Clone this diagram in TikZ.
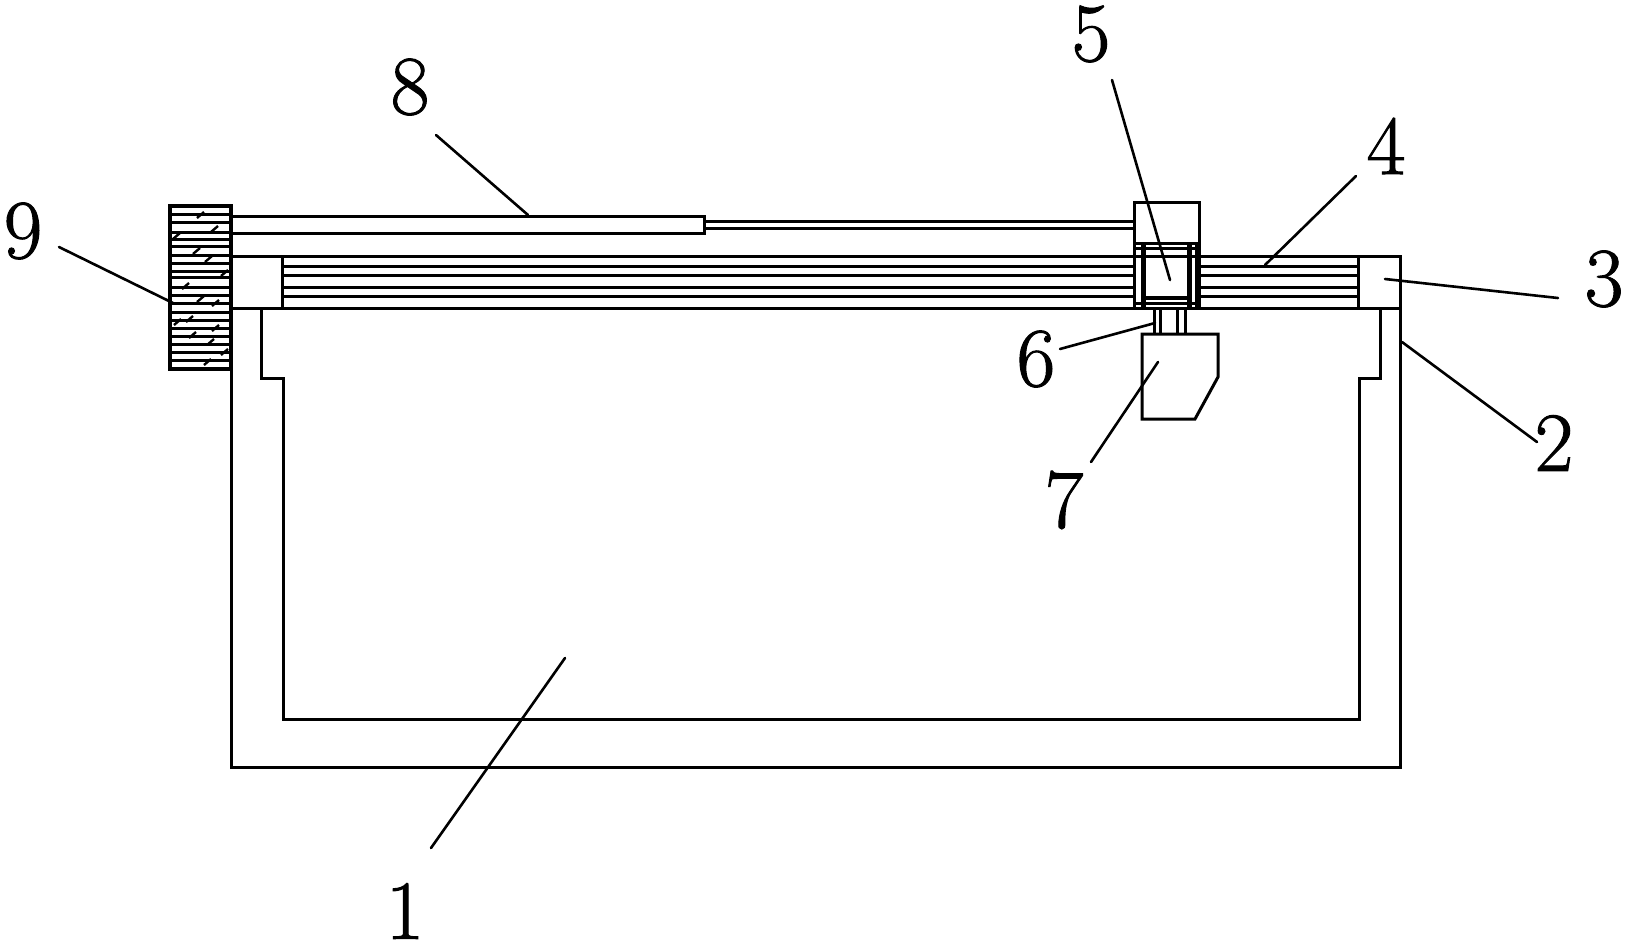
\documentclass[tikz,border=0pt]{standalone}
\usepackage{fontspec}
\newfontfamily\numfont{Latin Modern Roman}[RawFeature={embolden=1.2}]
\tikzset{
  part/.style={draw=black,line width=3pt,line join=miter},
  thick part/.style={draw=black,line width=4.5pt},
  hatchline/.style={draw=black,line width=3pt},
  slash/.style={draw=black,line width=2.4pt},
  leader/.style={draw=black,line width=2.6pt,line cap=round},
  num/.style={font=\numfont\fontsize{84}{84}\selectfont,inner sep=0pt,text=black}
}
\begin{document}
\begin{tikzpicture}[x=1pt,y=-1pt]
\useasboundingbox (0,0) rectangle (1627,943);
\fill[white] (0,0) rectangle (1627,943);
% body
\draw[part] (231,256) -- (231,767) -- (1400,767) -- (1400,256) -- cycle;
\draw[part] (231,308) -- (1400,308);
\draw[part] (261,308) -- (261,378) -- (283,378) -- (283,719) -- (1359,719) -- (1359,378) -- (1380,378) -- (1380,308);
% rail
\draw[part] (282,256) -- (282,308);
\draw[part] (1358,256) -- (1358,308);
\foreach \y in {266,275,287,296}{
  \draw[hatchline] (282,\y) -- (1134,\y);
  \draw[hatchline] (1199,\y) -- (1358,\y);
}
% knob
\draw[part,line width=3.5pt] (170,206) rectangle (231,369);
\foreach \y in {214,222,232,239,246,255,263,271,277,287,295,303,312,320,328,336,344,352,360}{
  \draw[hatchline] (170,\y) -- (231,\y);
}
\foreach \a/\b in {197/218,211/232,173/239,193/254,205/262,221/276,182/289,197/302,212/306,186/322,174/325,212/331,189/338,207/345,221/355,204/365}{
  \draw[slash] (\a,\b) -- ++(7,-6);
}
% rods
\draw[part] (231,216) -- (704,216) -- (704,233) -- (231,233);
\draw[part] (704,221) -- (1134,221);
\draw[part] (704,228) -- (1134,228);
% slider
\draw[part] (1134,202) rectangle (1199,308);
\draw[part] (1134,243) -- (1199,243);
\draw[part] (1134,248.5) -- (1199,248.5);
\draw[part] (1134,303) -- (1199,303);
\draw[thick part] (1143.5,243) -- (1143.5,308);
\draw[thick part] (1189.5,243) -- (1189.5,308);
\draw[part] (1196.5,243) -- (1196.5,308);
\draw[thick part] (1143.5,298) -- (1189.5,298);
% shaft
\foreach \x in {1154,1160,1177,1185}{\draw[part] (\x,308) -- (\x,334);}
% head
\draw[part] (1142,334) -- (1218,334) -- (1218,377) -- (1195,419) -- (1142,419) -- cycle;
% labels
\node[num] (n1) at (405,911) {1};
\node[num] (n2) at (1554,443) {2};
\node[num] (n3) at (1604,279) {3};
\node[num] (n4) at (1386,146) {4};
\node[num] (n5) at (1091,34) {5};
\node[num] (n6) at (1036,359) {6};
\node[num] (n7) at (1064,500) {7};
\node[num] (n8) at (410,87) {8};
\node[num] (n9) at (23,231) {9};
% leaders
\coordinate (a1) at (431,848); \coordinate (b1) at (565,658);
\coordinate (a2) at (1537,442); \coordinate (b2) at (1402,342);
\coordinate (a3) at (1558,298); \coordinate (b3) at (1385,279);
\coordinate (a4) at (1356,176); \coordinate (b4) at (1265,265);
\coordinate (a5) at (1112,80);  \coordinate (b5) at (1170,280);
\coordinate (a6) at (1060,349); \coordinate (b6) at (1155,323);
\coordinate (a7) at (1091,462); \coordinate (b7) at (1158,362);
\coordinate (a8) at (436,135);  \coordinate (b8) at (528,215);
\coordinate (a9) at (59,247);   \coordinate (b9) at (173,303);
\foreach \i in {1,...,9}{\draw[leader] (a\i) -- (b\i);}
\end{tikzpicture}
\end{document}
